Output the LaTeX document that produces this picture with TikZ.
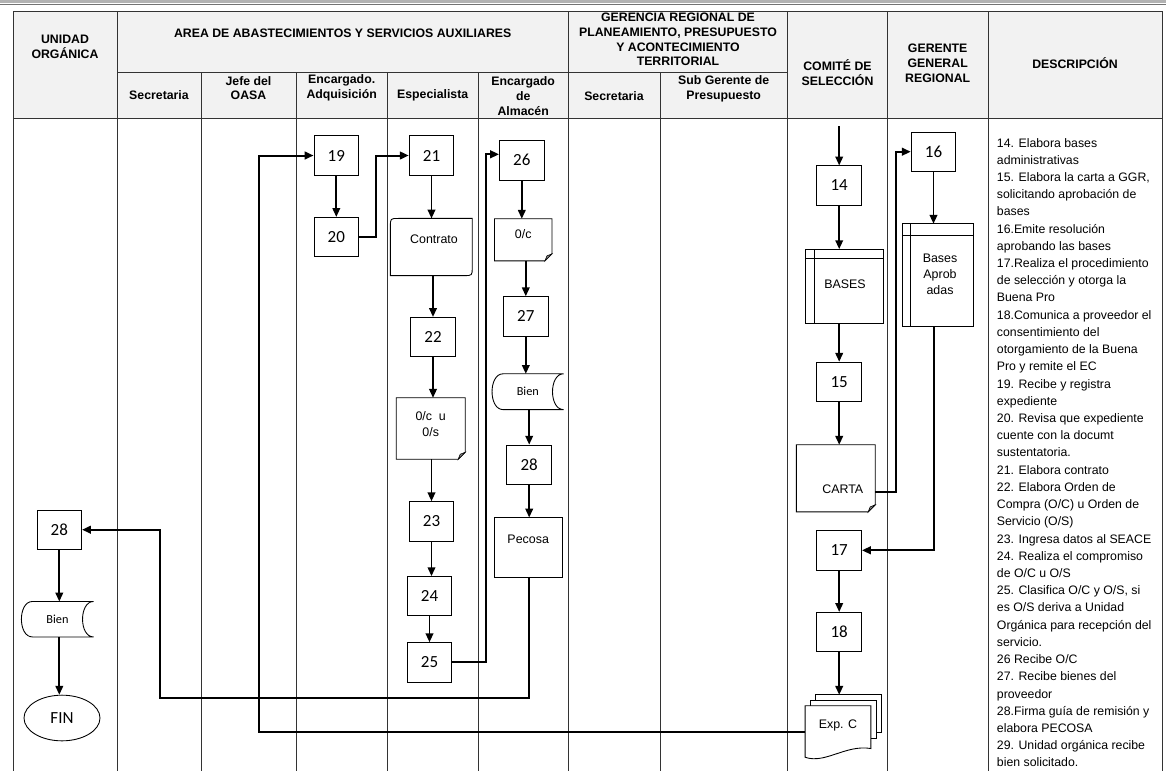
\documentclass[tikz,border=0pt]{standalone}
\usepackage{fontspec}
\setmainfont{Liberation Sans}
\newfontfamily\numfont{Carlito}
\usetikzlibrary{arrows.meta,calc,shapes.geometric}

\begin{document}
\begin{tikzpicture}[x=0.03cm,y=-0.03cm,
  lane/.style={line width=0.8pt, draw=black!80},
  box/.style={draw, line width=0.75pt, minimum width=1.34cm, minimum height=1.18cm,
              inner sep=0pt, font=\numfont\fontsize{14.5}{16}\selectfont},
  frame/.style={draw=none, inner sep=0pt},
  shp/.style={draw, line width=0.75pt, fill=white},
  lbl/.style={inner sep=0pt, align=center, font=\fontsize{10.6}{13.7}\selectfont},
  small/.style={font=\numfont\fontsize{10.5}{12}\selectfont},
  hd/.style={inner sep=0pt, align=center, font=\bfseries\fontsize{10.5}{12.6}\selectfont},
  desc/.style={anchor=base west, inner sep=0pt, font=\fontsize{10.5}{14}\selectfont},
  flow/.style={line width=1.4pt, -{Triangle[length=7.5pt,width=6.5pt]}},
  link/.style={line width=1.7pt, -{Triangle[length=7.5pt,width=6.5pt]}}
]
\useasboundingbox (0,0) rectangle (1166,771);

% page rule above the table
\fill[black!30] (0,0) rectangle (1166,3);
\draw[black!55, line width=0.5pt] (0,4) -- (1166,4);

% header background and grid
\fill[black!5] (13,11) rectangle (1162,118.3);
\draw[lane] (13,11) -- (1162,11);
\draw[lane] (117,72) -- (787.5,72);
\draw[lane] (13,118.3) -- (1162,118.3);
\foreach \x in {13,117,568.5,787.5,887.5,988,1162} \draw[lane] (\x,11) -- (\x,771);
\foreach \x in {201,296,387.5,478,660} \draw[lane] (\x,72) -- (\x,771);

% header texts
\node[hd] (h-unidad) at (65,46.5) {UNIDAD\\ORGÁNICA};
\node[hd] (h-area) at (342.7,33) {AREA DE ABASTECIMIENTOS Y SERVICIOS AUXILIARES};
\node[hd] (h-sec1) at (159,95.5) {Secretaria};
\node[hd] (h-jefe) at (248.5,88) {Jefe del\\OASA};
\node[hd] (h-adq) at (341.7,88) {Encargado.\\Adquisición};
\node[hd] (h-esp) at (432.7,95.5) {Especialista};
\node[hd] (h-alm) at (523.2,96) {Encargado\\de\\Almacén};
\node[hd] (h-ger) at (678,39.5) {GERENCIA REGIONAL DE\\PLANEAMIENTO, PRESUPUESTO\\Y ACONTECIMIENTO\\TERRITORIAL};
\node[hd] (h-sec2) at (614,96) {Secretaria};
\node[hd] (h-sub) at (723.7,88.5) {Sub Gerente de\\Presupuesto};
\node[hd] (h-com) at (837.5,72.5) {COMITÉ DE\\SELECCIÓN};
\node[hd] (h-gg) at (937.7,63) {GERENTE\\GENERAL\\REGIONAL};
\node[hd] (h-desc) at (1075,63) {DESCRIPCIÓN};

% process steps
\node[box] (n19) at (336.3,155.5) {19};
\node[box] (n20) at (336.3,237) {20};
\node[box] (n21) at (431.5,155.5) {21};
\node[frame, minimum width=2.44cm, minimum height=1.70cm] (contrato) at (431.3,247) {};
\node[box] (n22) at (433,337) {22};
\node[frame, minimum width=2.055cm, minimum height=1.83cm] (ocos) at (430.7,428.5) {};
\node[box] (n23) at (431.5,521.3) {23};
\node[box] (n24) at (429.5,596.2) {24};
\node[box] (n25) at (429.5,662.3) {25};
\node[box] (n26) at (521.8,160.3) {26};
\node[frame, minimum width=1.71cm, minimum height=1.25cm] (oc) at (523.2,239.8) {};
\node[box] (n27) at (525.8,316.3) {27};
\node[frame, minimum width=2.13cm, minimum height=1.06cm] (bienA) at (527.8,391.7) {};
\node[box] (n28a) at (529.2,464.7) {28};
\node[frame, minimum width=2.02cm, minimum height=1.77cm] (pecosa) at (528.7,547.2) {};
\node[box] (n28b) at (59.3,529.7) {28};
\node[frame, minimum width=2.15cm, minimum height=1.05cm] (bienB) at (57.5,619.2) {};
\node[draw, ellipse, line width=0.75pt, minimum width=2.28cm, minimum height=1.37cm, inner sep=0pt,
      font=\numfont\fontsize{14.5}{16}\selectfont] (fin) at (62,718) {FIN};
\node[box] (n14) at (839.2,185.5) {14};
\node[frame, minimum width=2.33cm, minimum height=2.22cm] (bases) at (844.5,286.3) {};
\node[box] (n15) at (839.2,381.8) {15};
\node[frame, minimum width=2.35cm, minimum height=2.0cm] (carta) at (835.8,478.3) {};
\node[box] (n17) at (839.2,550.3) {17};
\node[box] (n18) at (839.2,632) {18};
\node[frame, minimum width=1.96cm, minimum height=1.53cm] (expc) at (838,731.5) {};
\node[box] (n16) at (933.5,151.7) {16};
\node[frame, minimum width=2.1cm, minimum height=3.08cm] (basesap) at (937.7,275.3) {};

% card outline
\draw[shp] ($(contrato.north west)+(0,8)$) .. controls (contrato.north west) .. ($(contrato.north west)+(8,0)$)
  -- (contrato.north east) -- ($(contrato.south east)+(0,-8)$) .. controls (contrato.south east) .. ($(contrato.south east)+(-8,0)$)
  -- (contrato.south west) -- cycle;

% documents with a folded corner
\foreach \d in {ocos,oc,carta}{
  \draw[shp] (\d.north west) -- (\d.north east) -- ($(\d.south east)+(0,-7)$) -- ($(\d.south east)+(-7,0)$) -- (\d.south west) -- cycle;
  \filldraw[fill=black!45, line width=0.5pt] ($(\d.south east)+(0,-7)$) -- ($(\d.south east)+(-5,-5)$) -- ($(\d.south east)+(-7,0)$) -- cycle;
}

% stored data
\foreach \b in {bienA,bienB}{
  \draw[shp] ($(\b.north west)+(11,0)$) -- (\b.north east)
    .. controls ($(\b.north east)+(-14.7,0)$) and ($(\b.south east)+(-14.7,0)$) .. (\b.south east)
    -- ($(\b.south west)+(11,0)$)
    .. controls ($(\b.south west)+(-3.7,0)$) and ($(\b.north west)+(-3.7,0)$) .. ($(\b.north west)+(11,0)$) -- cycle;
}

% internal storage
\draw[shp] (bases.north west) rectangle (bases.south east);
\draw[line width=0.75pt] ($(bases.north west)+(8.6,0)$) -- ($(bases.south west)+(8.6,0)$);
\draw[line width=0.75pt] ($(bases.north west)+(0,9)$) -- ($(bases.north east)+(0,9)$);
\draw[shp] (basesap.north west) rectangle (basesap.south east);
\draw[line width=0.75pt] ($(basesap.north west)+(8.3,0)$) -- ($(basesap.south west)+(8.3,0)$);
\draw[line width=0.75pt] ($(basesap.north west)+(0,12)$) -- ($(basesap.north east)+(0,12)$);

% plain process with text on top
\draw[shp] (pecosa.north west) rectangle (pecosa.south east);

% stack of documents
\filldraw[shp] ($(expc.north west)+(10.7,-11)$) rectangle ($(expc.north east)+(10.3,27)$);
\filldraw[shp] ($(expc.north west)+(5.4,-5.3)$) rectangle ($(expc.north east)+(5.3,33)$);
\draw[shp] (expc.north west) -- (expc.north east) -- ($(expc.south east)+(0,-8.7)$)
  .. controls ($(expc.south east)+(-25,-13)$) and ($(expc.south west)+(20,7)$) .. (expc.south west) -- cycle;

% shape texts
\node[lbl] (t-contrato) at ($(contrato.center)+(2.7,-8)$) {Contrato};
\node[lbl] (t-ocos) at ($(ocos.center)+(0,-4.6)$) {0/c\ \ u\\0/s};
\node[lbl] (t-oc) at ($(oc.center)+(0,-5.8)$) {0/c};
\node[lbl, small] (t-bienA) at (bienA.center) {Bien};
\node[lbl] (t-pecosa) at ($(pecosa.center)+(-0.5,-8)$) {Pecosa};
\node[lbl, small] (t-bienB) at (bienB.center) {Bien};
\node[lbl] (t-bases) at ($(bases.center)+(0.5,-2)$) {BASES};
\node[lbl] (t-carta) at ($(carta.center)+(7,11)$) {CARTA};
\node[lbl] (t-expc) at ($(expc.center)+(0,-6.5)$) {Exp. C};
\node[lbl] (t-basesap) at ($(basesap.center)+(2.3,-0.8)$) {Bases\\Aprob\\adas};

% connectors
\coordinate (c14) at (839.2,126);
\draw[flow] (c14) -- (c14 |- n14.north);
\draw[flow] (n14.south) -- (n14.south |- bases.north);
\draw[flow] (n15.north |- bases.south) -- (n15.north);
\draw[flow] (n15.south) -- (n15.south |- carta.north);
\coordinate (k1) at (895.7,491.7);
\draw[link] (carta.east |- k1) -- (k1) |- (n16.west);
\draw[flow] (n16.south) -- (n16.south |- basesap.north);
\draw[link] (basesap.south -| n16) |- (n17.east);
\draw[flow] (n17.south) -- (n18.north);
\coordinate (expc-top) at ($(expc.north)+(0,-11)$);
\draw[flow] (n18.south) -- (n18.south |- expc-top);
\coordinate (k2) at (258.7,731);
\draw[link] (expc.west) -- (expc.west -| k2) |- (n19.west);
\draw[flow] (n19.south) -- (n20.north);
\coordinate (k3) at (375.7,155);
\draw[link] (n20.east) -- (n20.east -| k3) |- (n21.west);
\draw[flow] (n21.south) -- (n21.south |- contrato.north);
\draw[flow] (contrato.south -| n22) -- (n22.north);
\draw[flow] (n22.south) -- (n22.south |- ocos.north);
\draw[flow] (ocos.south -| n23) -- (n23.north);
\draw[flow] (n23.south) -- (n23.south |- n24.north);
\draw[flow] (n24.south) -- (n25.north);
\coordinate (k4) at (485.7,154.3);
\draw[link] (n25.east) -| (k4) -- (k4 -| n26.west);
\draw[flow] (n26.south) -- (n26.south |- oc.north);
\draw[flow] (oc.south -| n27) -- (n27.north);
\draw[flow] (n27.south) -- (n27.south |- bienA.north);
\draw[flow] (bienA.south -| n28a) -- (n28a.north);
\draw[flow] (n28a.south) -- (n28a.south |- pecosa.north);
\coordinate (k5) at (160,698.3);
\draw[link] (pecosa.south) |- (k5) |- (n28b.east);
\draw[flow] (n28b.south) -- (n28b.south |- bienB.north);
\draw[flow] (bienB.south -| n28b) -- (fin.north -| n28b);

% description column
\foreach \txt [count=\i from 0] in {
  {14. Elabora bases},
  {administrativas},
  {15. Elabora la carta a GGR,},
  {solicitando aprobación de},
  {bases},
  {16.Emite resolución},
  {aprobando las bases},
  {17.Realiza el procedimiento},
  {de selección y otorga la},
  {Buena Pro},
  {18.Comunica a proveedor el},
  {consentimiento del},
  {otorgamiento de la Buena},
  {Pro y remite el EC},
  {19. Recibe y registra},
  {expediente},
  {20. Revisa que expediente},
  {cuente con la documt},
  {sustentatoria.},
  {21. Elabora contrato},
  {22. Elabora Orden de},
  {Compra (O/C) u Orden de},
  {Servicio (O/S)},
  {23. Ingresa datos al SEACE},
  {24. Realiza el compromiso},
  {de O/C u O/S},
  {25. Clasifica O/C y O/S, si},
  {es O/S deriva a Unidad},
  {Orgánica para recepción del},
  {servicio.},
  {26 Recibe O/C},
  {27. Recibe bienes del},
  {proveedor},
  {28.Firma guía de remisión y},
  {elabora PECOSA},
  {29. Unidad orgánica recibe},
  {bien solicitado.}}
  \node[desc] (d\i) at (996.7,{147+\i*17.22}) {\txt};

\end{tikzpicture}
\end{document}
